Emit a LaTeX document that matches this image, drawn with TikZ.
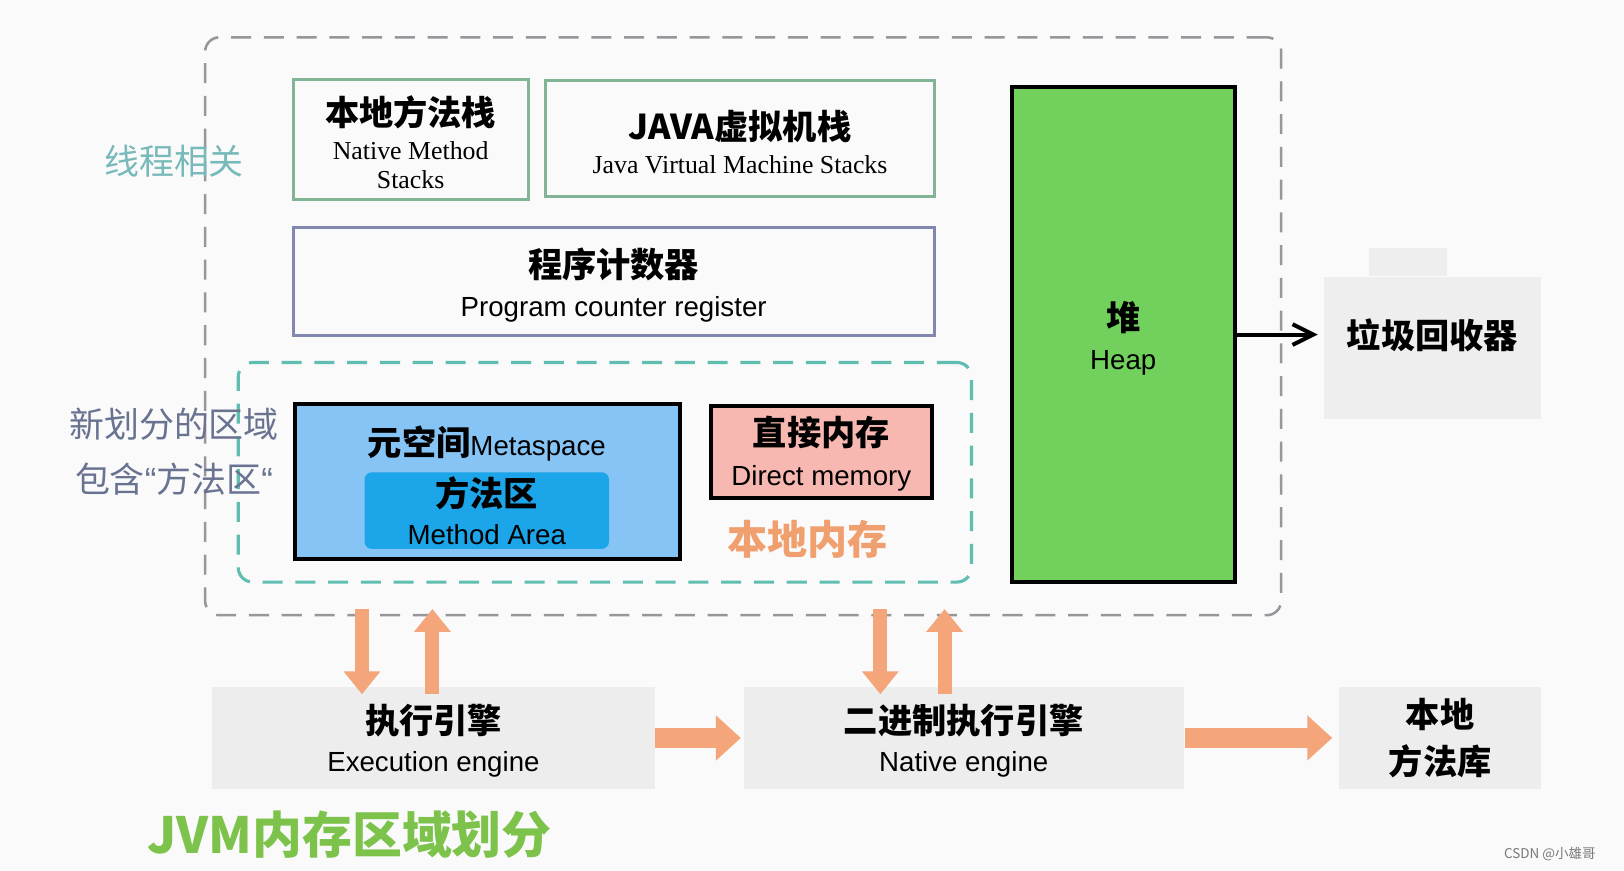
\documentclass[tikz,border=0pt]{standalone}
\usepackage{fontspec}
\setmainfont{Liberation Sans}
\newfontfamily\cjkfont{Noto Sans CJK SC}
\newfontfamily\serifen{Liberation Serif}
\usetikzlibrary{arrows.meta,positioning}

\definecolor{bgpaper}{RGB}{250,250,251}
\definecolor{zonegray}{RGB}{150,150,155}
\definecolor{zoneteal}{RGB}{95,190,175}
\definecolor{stackline}{RGB}{130,180,150}
\definecolor{pcline}{RGB}{130,135,175}
\definecolor{heapgreen}{RGB}{114,208,92}
\definecolor{gcfill}{RGB}{238,238,238}
\definecolor{metablue}{RGB}{134,196,246}
\definecolor{methodblue}{RGB}{28,165,232}
\definecolor{directpink}{RGB}{248,184,178}
\definecolor{localorange}{RGB}{240,160,110}
\definecolor{engfill}{RGB}{237,237,237}
\definecolor{orangearr}{RGB}{245,165,122}
\definecolor{threadteal}{RGB}{120,185,185}
\definecolor{newslate}{RGB}{105,115,145}
\definecolor{titlegreen}{RGB}{125,195,75}
\definecolor{markgray}{RGB}{120,120,120}

\newcommand\cnb{\cjkfont\bfseries\fontsize{9.4}{8}\selectfont}
\newcommand\ens{\normalfont\fontsize{7.6}{8}\selectfont}
\newcommand\sers{\serifen\fontsize{7.1}{8}\selectfont}
\newcommand\enquote{{\normalfont “}}
% baseline distance of a two line box
\newcommand\lsk[1]{\fontsize{7.6}{#1}\selectfont}
% extra room above the first line
\newcommand\topgap[1]{\rule{0pt}{#1}}

\begin{document}
\begin{tikzpicture}[
  box/.style={rectangle, draw, line width=0.85pt, inner sep=0pt, align=center},
  stackbox/.style={box, draw=stackline},
  pcbox/.style={box, draw=pcline},
  memblk/.style={box, draw=black, line width=1.1pt},
  engine/.style={rectangle, fill=engfill, inner sep=0pt, align=center, minimum height=0.99cm},
  zone/.style={rectangle, rounded corners=4pt, dash pattern=on 5.5pt off 3.5pt},
  oarrow/.style={draw=orangearr, -{Triangle[width=0.34cm,length=0.22cm]}, line width=0.135cm},
  harrow/.style={draw=orangearr, -{Triangle[width=0.42cm,length=0.24cm]}, line width=0.19cm},
  gcarrow/.style={-{Straight Barb[length=0.2cm,width=0.2cm]}, line width=1.1pt},
  sidenote/.style={font=\cjkfont\fontsize{9.6}{15}\selectfont, align=center},
]

\fill[bgpaper] (0,0) rectangle (15.68,-8.40);
\useasboundingbox (0,0) rectangle (15.68,-8.40);

% === ZONES ===
\node[zone, draw=zonegray, line width=0.7pt, minimum width=10.39cm, minimum height=5.58cm] (jvm) at (7.175,-3.15) {};
\node[zone, draw=zoneteal, line width=0.85pt, minimum width=7.08cm, minimum height=2.12cm] (newzone) at (5.84,-4.56) {};

\node[sidenote, text=threadteal] (thrlbl) at (1.68,-1.56) {线程相关};
\node[sidenote, text=newslate] (newlbl) at (1.68,-4.36)
  {新划分的区域\\\cjkfont\fontsize{9.6}{15}\selectfont 包含\enquote 方法区\enquote};

% === THREAD AREAS ===
\node[stackbox, font=\lsk{8}, minimum width=2.27cm, minimum height=1.16cm] (nms) at (3.965,-1.35)
  {\topgap{9.5pt}\cnb 本地方法栈\\[1.3pt]\sers Native Method\\\sers Stacks};
\node[stackbox, font=\lsk{9.3}, minimum width=3.75cm, minimum height=1.12cm] (jvms) at (7.145,-1.34)
  {\topgap{10pt}\cnb JAVA虚拟机栈\\\sers Java Virtual Machine Stacks};
\node[pcbox, font=\lsk{10.5}, minimum width=6.19cm, minimum height=1.04cm] (pc) at (5.925,-2.72)
  {\topgap{10pt}\cnb 程序计数器\\\ens Program counter register};

% === HEAP AND GC ===
\node[memblk, font=\lsk{10.6}, fill=heapgreen, minimum width=2.15cm, minimum height=4.78cm] (heap) at (10.845,-3.23)
  {\topgap{10pt}\cnb 堆\\\ens Heap};
\node[rectangle, fill=gcfill, inner sep=0pt, minimum width=2.10cm, minimum height=1.38cm] (gc) at (13.83,-3.36) {};
\fill[gcfill] ([xshift=0.44cm]gc.north west) rectangle ([xshift=1.20cm,yshift=0.27cm]gc.north west);
\node[font=\cnb] (gctext) at (13.83,-3.24) {垃圾回收器};
\draw[gcarrow, shorten >=0.05cm] (heap.east) -- (heap.east -| gc.west);

% === NEW AREAS ===
\node[memblk, fill=metablue, minimum width=3.72cm, minimum height=1.50cm] (meta) at (4.71,-4.65) {};
\node (metatitle) at (4.70,-4.28) {\cnb 元空间\ens Metaspace};
\node[rectangle, rounded corners=2pt, fill=methodblue, inner sep=0pt, align=center, font=\lsk{10.6},
  minimum width=2.36cm, minimum height=0.74cm] (marea) at (4.70,-4.93)
  {\cnb 方法区\\\ens Method Area};
\node[memblk, font=\lsk{10.9}, fill=directpink, minimum width=2.14cm, minimum height=0.89cm] (direct) at (7.93,-4.365)
  {\topgap{9pt}\cnb 直接内存\\\ens Direct memory};
\node[font=\cjkfont\bfseries\fontsize{11}{8}\selectfont, text=localorange] (localmem) at (7.80,-5.21) {本地内存};

% === ENGINES ===
\node[engine, font=\lsk{10.3}, minimum width=4.27cm] (exec) at (4.185,-7.125)
  {\topgap{9.5pt}\cnb 执行引擎\\\ens Execution engine};
\node[engine, font=\lsk{10.3}, minimum width=4.25cm] (natv) at (9.305,-7.125)
  {\topgap{9.5pt}\cnb 二进制执行引擎\\\ens Native engine};
\node[engine, font=\lsk{13.1}, minimum width=1.95cm] (lib) at (13.905,-7.125)
  {\cnb 本地\\\cnb 方法库};

\coordinate (eu1) at (3.495,-5.88);
\coordinate (eu2) at (4.175,-5.88);
\coordinate (nu1) at (8.50,-5.88);
\coordinate (nu2) at (9.12,-5.88);
\draw[oarrow] (eu1) -- ([yshift=-0.08cm]exec.north -| eu1);
\draw[oarrow] ([yshift=-0.08cm]exec.north -| eu2) -- (eu2);
\draw[oarrow] (nu1) -- ([yshift=-0.08cm]natv.north -| nu1);
\draw[oarrow] ([yshift=-0.08cm]natv.north -| nu2) -- (nu2);
\draw[harrow, shorten >=0.02cm] (exec.east) -- (natv.west);
\draw[harrow, shorten >=0.06cm] (natv.east) -- (lib.west);

% === TITLE ===
\node[font=\cjkfont\bfseries\fontsize{13.7}{8}\selectfont, text=titlegreen] (title) at (3.375,-8.06) {JVM内存区域划分};
\node[font=\cjkfont\fontsize{3.7}{4}\selectfont, text=markgray, anchor=east] (mark) at (15.53,-8.25) {CSDN @小雄哥};
\end{tikzpicture}
\end{document}
